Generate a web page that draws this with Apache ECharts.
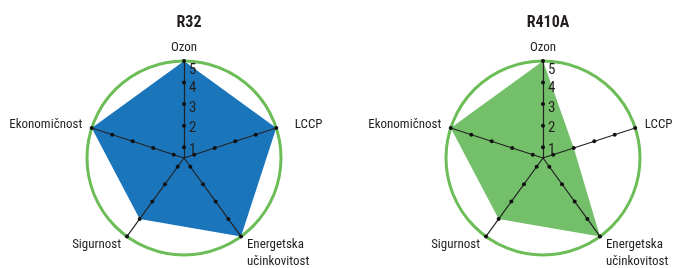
<!DOCTYPE html>
<html>
<head>
<meta charset="utf-8">
<script src="https://cdn.jsdelivr.net/npm/echarts@6/dist/echarts.min.js"></script>
<style>
  html, body { margin: 0; padding: 0; background: #fff; }
  #chart { width: 673px; height: 268px; }
</style>
</head>
<body>
<div id="chart"></div>
<script>
// indicators go counter-clockwise from the top
var indicators = ['Ozon', 'Ekonomičnost', 'Sigurnost', 'Energetska\nučinkovitost', 'LCCP']
var titles = ['R32', 'R410A']
var r32 = [5, 5, 4, 5, 5]
var r410a = [5, 5, 4, 5, 2]
var ticks = [1, 2, 3, 4, 5]
var axisMin = 0.5
var axisMax = 5

// small downward nudges for the tick labels (1..5)
var labelShift = [3, 3, 4, 6, 9]

var font = "'Roboto Condensed', 'DejaVu Sans Condensed', sans-serif"
var textColor = '#231f20'

var myChart = echarts.init(document.getElementById('chart'))

var nameText = { color: textColor, fontFamily: font, fontSize: 13 }

function makeRadar(cx, lccpPad) {
    return {
        center: [cx, 158],
        radius: 97,
        shape: 'circle',
        splitNumber: 1,
        z: 3,
        indicator: indicators.map(function (n) { return { name: n, min: axisMin, max: axisMax } }),
        axisName: {
            color: textColor,
            fontFamily: font,
            fontSize: 13,
            lineHeight: 17,
            formatter: function (name) {
                // two-line name: first line level with the other bottom label
                if (name.indexOf('\n') >= 0) return '\n' + name
                if (name === 'LCCP') return '{r|' + name + '}'
                return '{s|' + name + '}'
            },
            rich: {
                s: Object.assign({ lineHeight: 6 }, nameText),
                r: Object.assign({ padding: [0, 0, 0, lccpPad] }, nameText)
            }
        },
        nameGap: 10,
        axisLine: { lineStyle: { color: '#222', width: 1.2 } },
        axisTick: { show: false },
        axisLabel: { show: false },
        splitLine: { lineStyle: { color: '#6cbd58', width: 3 } },
        splitArea: { show: false }
    }
}

// tick dots drawn as extra radar series with a constant value on every axis
function tickSeries(radarIndex) {
    return ticks.map(function (t, i) {
        return {
            type: 'radar',
            radarIndex: radarIndex,
            z: 5,
            silent: true,
            symbol: 'circle',
            symbolSize: 4,
            itemStyle: { color: '#111' },
            lineStyle: { width: 0, opacity: 0 },
            label: {
                show: true,
                position: 'right',
                distance: 3,
                offset: [0, labelShift[i]],
                color: textColor,
                fontFamily: font,
                fontSize: 15,
                formatter: function (p) { return p.dimensionIndex === 0 ? String(t) : '' }
            },
            data: [{ value: indicators.map(function () { return t }) }]
        }
    })
}

var option = {
    animation: false,
    title: titles.map(function (t, i) {
        return {
            text: t,
            left: i === 0 ? 184 : 543,
            top: 10,
            textAlign: 'center',
            textStyle: { fontFamily: font, fontSize: 16, fontWeight: 'bold', color: textColor }
        }
    }),
    radar: [makeRadar(184, 9), makeRadar(543, 0)],
    series: [
        {
            type: 'radar',
            radarIndex: 0,
            z: 1,
            symbol: 'none',
            lineStyle: { width: 0 },
            areaStyle: { color: '#1b75bb', opacity: 1 },
            data: [{ value: r32, name: 'R32' }]
        },
        {
            type: 'radar',
            radarIndex: 1,
            z: 1,
            symbol: 'none',
            lineStyle: { width: 0 },
            areaStyle: { color: '#74bf69', opacity: 1 },
            data: [{ value: r410a, name: 'R410A' }]
        }
    ].concat(tickSeries(0), tickSeries(1))
}

myChart.setOption(option)
</script>
</body>
</html>
